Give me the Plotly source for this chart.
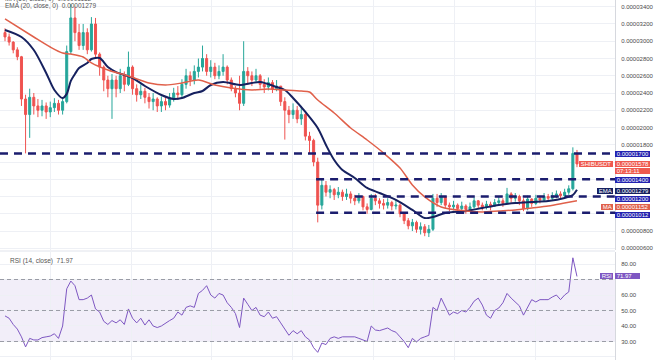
import plotly.graph_objects as go

# ---------------- data (price values in units of 1e-8 USDT) ----------------
opens = [3100, 3050, 2990, 2900, 2820, 2330, 2150, 2350, 2250, 2200,
         2250, 2180, 2230, 2280, 2200, 2300, 2880, 3270, 3100, 2950,
         3100, 2900, 3200, 2850, 2700, 2550, 2450, 2550, 2450, 2600,
         2500, 2700, 2450, 2380, 2420, 2350, 2300, 2330, 2250, 2300,
         2260, 2330, 2400, 2380, 2500, 2600, 2550, 2650, 2700, 2800,
         2650, 2700, 2600, 2650, 2700, 2550, 2450, 2400, 2280, 2650,
         2600, 2550, 2600, 2500, 2470, 2520, 2450, 2480, 2300, 2200,
         2150, 2200, 2100, 2150, 1900, 1850, 1600, 1100, 1330, 1250,
         1280, 1220, 1250, 1200, 1230, 1180, 1150, 1200, 1080, 1050,
         1180, 1150, 1120, 1100, 1130, 1090, 1100, 1000, 920, 860,
         900, 820, 850, 780, 820, 1180, 1130, 1200, 1100, 1080,
         1100, 1060, 1090, 1050, 1080, 1150, 1100, 1080, 1110, 1090,
         1130, 1150, 1120, 1230, 1180, 1200, 1150, 1060, 1170, 1120,
         1180, 1160, 1200, 1180, 1210, 1230, 1210, 1250, 1290, 1700]
closes = [3050, 2990, 2900, 2820, 2330, 2150, 2350, 2250, 2200, 2250,
          2180, 2230, 2280, 2200, 2300, 2880, 3270, 3100, 2950, 3100,
          2900, 3200, 2850, 2700, 2550, 2450, 2550, 2450, 2600, 2500,
          2700, 2450, 2380, 2420, 2350, 2300, 2330, 2250, 2300, 2260,
          2330, 2400, 2380, 2500, 2600, 2550, 2650, 2700, 2800, 2650,
          2700, 2600, 2650, 2700, 2550, 2450, 2400, 2280, 2650, 2600,
          2550, 2600, 2500, 2470, 2520, 2450, 2480, 2300, 2200, 2150,
          2200, 2100, 2150, 1900, 1850, 1600, 1100, 1330, 1250, 1280,
          1220, 1250, 1200, 1230, 1180, 1150, 1200, 1080, 1050, 1180,
          1150, 1120, 1100, 1130, 1090, 1100, 1000, 920, 860, 900,
          820, 850, 780, 820, 1180, 1130, 1200, 1100, 1080, 1100,
          1060, 1090, 1050, 1080, 1150, 1100, 1080, 1110, 1090, 1130,
          1150, 1120, 1230, 1180, 1200, 1150, 1060, 1170, 1120, 1180,
          1160, 1200, 1180, 1210, 1230, 1210, 1250, 1290, 1700, 1578]
highs = [3150, 3090, 3000, 2930, 2830, 2380, 2450, 2400, 2330, 2320,
         2290, 2300, 2340, 2320, 2350, 2950, 3430, 3400, 3200, 3200,
         3150, 3280, 3270, 2870, 2720, 2600, 2620, 2600, 2680, 2650,
         2880, 2720, 2500, 2500, 2460, 2400, 2400, 2350, 2360, 2350,
         2400, 2460, 2480, 2560, 2680, 2650, 2720, 2800, 2950, 2850,
         2780, 2750, 2720, 2850, 2720, 2580, 2480, 2600, 3000, 2700,
         2650, 2680, 2620, 2560, 2580, 2550, 2550, 2480, 2350, 2250,
         2280, 2250, 2250, 2180, 1950, 1870, 1650, 1400, 1380, 1330,
         1300, 1310, 1280, 1290, 1260, 1220, 1240, 1210, 1120, 1230,
         1230, 1180, 1170, 1180, 1150, 1160, 1120, 1020, 950, 940,
         920, 900, 880, 870, 1230, 1230, 1240, 1200, 1130, 1150,
         1120, 1140, 1110, 1130, 1190, 1160, 1130, 1150, 1140, 1170,
         1200, 1180, 1300, 1250, 1240, 1220, 1180, 1210, 1180, 1220,
         1210, 1240, 1230, 1250, 1270, 1260, 1290, 1330, 1770, 1740]
lows = [3000, 2950, 2860, 2780, 2250, 1700, 1880, 2150, 2120, 2130,
        2100, 2120, 2180, 2150, 2150, 2280, 2850, 3000, 2900, 2900,
        2850, 2880, 2800, 2600, 2420, 2350, 2100, 2350, 2400, 2420,
        2480, 2380, 2300, 2330, 2280, 2220, 2200, 2180, 2180, 2200,
        2230, 2300, 2320, 2350, 2450, 2480, 2500, 2580, 2650, 2600,
        2580, 2560, 2560, 2600, 2500, 2420, 2350, 2200, 2250, 2500,
        2480, 2520, 2450, 2400, 2430, 2400, 2420, 2250, 1860, 2050,
        2100, 2050, 2030, 1850, 1700, 1550, 900, 1050, 1200, 1180,
        1160, 1180, 1150, 1160, 1120, 1100, 1120, 1040, 1000, 1040,
        1100, 1060, 1050, 1060, 1040, 1050, 960, 880, 820, 800,
        780, 760, 740, 730, 800, 1080, 1100, 1060, 1030, 1040,
        1020, 1040, 1000, 1030, 1060, 1060, 1040, 1050, 1040, 1080,
        1100, 1080, 1110, 1130, 1140, 1100, 1030, 1040, 1080, 1100,
        1120, 1140, 1150, 1160, 1180, 1170, 1190, 1220, 1270, 1540]
bars = list(range(len(closes)))

ema_bar = [0, 4, 7, 10, 12, 14, 15, 16, 17, 18, 20, 21, 23, 25, 27, 29, 31, 34, 38, 41,
           43, 46, 48, 50, 53, 57, 60, 62, 66, 68, 70, 73, 76, 78, 80, 82, 85, 88, 91, 95,
           99, 102, 104, 107, 112, 116, 120, 124, 128, 132, 136, 138, 139]
ema_val = [3130, 3049, 2898, 2632, 2435, 2342, 2390, 2540, 2620, 2690, 2748, 2794, 2806, 2701,
           2643, 2608, 2574, 2481, 2377, 2330, 2342, 2400, 2423, 2493, 2527, 2493, 2516, 2527,
           2469, 2435, 2342, 2180, 1994, 1797, 1623, 1507, 1415, 1299, 1241, 1160, 1044, 951,
           963, 1009, 1032, 1067, 1102, 1125, 1137, 1148, 1183, 1218, 1279]
ma_bar = [0, 7, 11, 14, 16, 19, 21, 25, 30, 35, 39, 43, 47, 51, 55, 60, 64, 68, 72, 74,
          76, 80, 84, 88, 92, 96, 99, 102, 106, 112, 116, 120, 124, 128, 132, 136, 139]
ma_val = [3258, 3049, 2933, 2863, 2851, 2817, 2748, 2666, 2597, 2516, 2493, 2516, 2550, 2493,
          2458, 2435, 2446, 2435, 2423, 2411, 2319, 2168, 1994, 1855, 1704, 1530, 1334, 1195,
          1079, 1032, 1021, 1032, 1044, 1067, 1090, 1125, 1152]

rsi = [46.5, 45, 41, 38, 33, 26.5, 32, 31, 31, 32.5,
       33, 33.5, 35, 32, 40, 64, 69, 66, 57, 57,
       58, 60, 51, 49, 43, 41, 43.5, 42, 44, 41,
       51, 45, 42, 45, 40.6, 44, 40, 39, 40, 42,
       43.5, 45, 49, 47, 52, 53, 52, 61, 63, 66,
       60, 58, 61, 60, 55, 52, 48, 39, 58, 54,
       50, 52, 47, 46, 49, 45, 46, 42, 38, 34,
       37, 35, 37, 33, 31, 26, 23, 29, 28, 32,
       33, 32, 33, 33, 33, 33, 32, 31, 30, 40,
       37.4, 37, 38, 38.7, 37, 36, 33, 30, 26, 32,
       29.7, 32, 33, 34, 52, 50, 58, 53, 47, 49,
       48, 50, 49, 52, 56, 58, 53.5, 47, 45, 50,
       51.6, 55, 61, 58, 55.5, 53, 47, 52, 57, 55.5,
       57, 57, 57, 58.7, 60, 57, 60, 62, 84, 71.97]

levels = [1700, 1400, 1200, 1012]
price_ticks = [600, 800, 1800, 2000, 2200, 2400, 2600, 2800, 3000, 3200, 3400]
price_tick_text = ["0.00000600", "0.00000800", "0.00001800", "0.00002000", "0.00002200",
                   "0.00002400", "0.00002600", "0.00002800", "0.00003000", "0.00003200",
                   "0.00003400"]
hidden_price_grid = [1000, 1200, 1400, 1600]
rsi_ticks = [20, 30, 40, 50, 60, 80]
rsi_tick_text = ["20.00", "30.00", "40.00", "50.00", "60.00", "80.00"]
last_price = 1578
last_time = "07:13:11"
last_ema = 1279
last_ma = 1152
last_rsi = 71.97

# ---------------- style ----------------
FONT = "Arial"
UP = "#26a69a"
DOWN = "#ef5350"
EMA_C = "#16215f"
MA_C = "#e0604a"
RSI_C = "#7e57c2"
PRICE_C = "#ef5a4f"
LEVEL_C = "#1b1d6e"
LEVEL_BOX = "#2222b0"
GRID = "#eef0f5"
XR = 615 / 660
X_MIN, X_MAX = -1.215, 148.24
FS = 6

fig = go.Figure()
fig.add_trace(go.Candlestick(
    x=bars, open=opens, high=highs, low=lows, close=closes,
    increasing=dict(line=dict(color=UP, width=1), fillcolor=UP),
    decreasing=dict(line=dict(color=DOWN, width=1), fillcolor=DOWN),
    whiskerwidth=0, xaxis="x", yaxis="y", hoverinfo="skip"))
fig.add_trace(go.Scatter(x=ema_bar, y=ema_val, mode="lines",
                         line=dict(color=EMA_C, width=2, shape="spline", smoothing=0.8),
                         xaxis="x", yaxis="y", hoverinfo="skip"))
fig.add_trace(go.Scatter(x=ma_bar, y=ma_val, mode="lines",
                         line=dict(color=MA_C, width=1.5, shape="spline", smoothing=0.8),
                         xaxis="x", yaxis="y", hoverinfo="skip"))
fig.add_trace(go.Scatter(x=bars, y=rsi, mode="lines", line=dict(color=RSI_C, width=1),
                         xaxis="x2", yaxis="y2", hoverinfo="skip"))

shapes = []
shapes.append(dict(type="rect", xref="x2 domain", x0=0, x1=1, yref="y2", y0=30, y1=70,
                   fillcolor="rgba(126,87,194,0.10)", line=dict(width=0), layer="below"))
for lv in (70, 50, 30):
    shapes.append(dict(type="line", xref="x2 domain", x0=0, x1=1, yref="y2", y0=lv, y1=lv,
                       line=dict(color="#9a9ca6", width=1, dash="4px,3px")))
shapes.append(dict(type="line", xref="paper", x0=0, x1=XR, yref="paper", y0=1 - 251 / 360,
                   y1=1 - 251 / 360, line=dict(color="#e0e3eb", width=1)))
level_start = {1700: X_MIN, 1400: 75.6, 1200: 85.0, 1012: 75.6}
for lv in levels:
    shapes.append(dict(type="line", xref="x", x0=level_start[lv], x1=X_MAX, yref="y",
                       y0=lv, y1=lv, line=dict(color=LEVEL_C, width=2.5, dash="8px,6px")))

ann = []


def right_box(y, text, color, yref="y", yshift=0):
    ann.append(dict(x=XR, xref="paper", xanchor="left", y=y, yref=yref,
                    text="&nbsp;" + text + "&nbsp;", showarrow=False,
                    font=dict(color="white", size=FS, family=FONT), bgcolor=color,
                    borderpad=0, borderwidth=0, xshift=0, yshift=yshift))


def left_box(y, text, color, yref="y", yshift=0):
    ann.append(dict(x=XR, xref="paper", xanchor="right", y=y, yref=yref,
                    text="&nbsp;" + text + "&nbsp;", showarrow=False,
                    font=dict(color="white", size=FS, family=FONT), bgcolor=color,
                    borderpad=0, borderwidth=0, xshift=-2, yshift=yshift))


# label boxes on the price scale (spread apart like the original's scale labels)
right_box(1700, "0.00001700", LEVEL_BOX, yshift=-0.5)
right_box(1400, "0.00001400", LEVEL_BOX, yshift=-0.7)
right_box(1200, "0.00001200", LEVEL_BOX, yshift=-2.5)
right_box(1012, "0.00001012", LEVEL_BOX, yshift=-2.3)
right_box(last_ema, "0.%08d" % last_ema, EMA_C, yshift=-1.3)
left_box(last_ema, "EMA", EMA_C, yshift=-1.3)
right_box(last_ma, "0.%08d" % last_ma, MA_C, yshift=-6.3)
left_box(last_ma, "MA", MA_C, yshift=-6.3)
right_box(last_price, "0.%08d" % last_price, PRICE_C, yshift=-0.5)
right_box(last_price, last_time + "&nbsp;&nbsp;&nbsp;&nbsp;&nbsp;", PRICE_C, yshift=-7.5)
left_box(last_price, "SHIBUSDT", PRICE_C, yshift=-0.5)
right_box(last_rsi, "%.2f" % last_rsi + "&nbsp;&nbsp;&nbsp;&nbsp;", RSI_C, yref="y2")
left_box(last_rsi, "RSI", RSI_C, yref="y2")

# legends
LEG = dict(size=6.5, color="#555555", family=FONT)
ann.append(dict(x=0.004, xref="paper", xanchor="left", y=1 + 1 / 360, yref="paper",
                yanchor="middle", showarrow=False,
                text="MA (50, close, 0)&nbsp;&nbsp;0.0000%d" % last_ma, font=LEG))
ann.append(dict(x=0.004, xref="paper", xanchor="left", y=1 - 6 / 360, yref="paper",
                yanchor="middle", showarrow=False,
                text="EMA (20, close, 0)&nbsp;&nbsp;0.0000%d" % last_ema, font=LEG))
ann.append(dict(x=8 / 660, xref="paper", xanchor="left", y=1 - 261 / 360, yref="paper",
                yanchor="middle", showarrow=False,
                text="RSI (14, close)&nbsp;&nbsp;%.2f" % last_rsi, font=LEG))

axis_x = dict(domain=[0, XR], range=[X_MIN, X_MAX], showticklabels=False, showgrid=True,
              gridcolor=GRID, tick0=10.94, dtick=19.68, zeroline=False, ticks="",
              fixedrange=True)
axis_y = dict(side="right", showgrid=True, gridcolor=GRID, zeroline=False, ticks="",
              showline=True, linecolor="#d6d8de", linewidth=1, ticklabelstandoff=4,
              fixedrange=True, tickfont=dict(size=FS, color="#4a4a4a", family=FONT))

fig.update_layout(
    width=660, height=360, margin=dict(l=0, r=0, t=0, b=0),
    paper_bgcolor="white", plot_bgcolor="white", showlegend=False,
    font=dict(family=FONT), hovermode=False,
    xaxis=dict(axis_x, anchor="y", rangeslider=dict(visible=False)),
    xaxis2=dict(axis_x, anchor="y2"),
    yaxis=dict(axis_y, domain=[1 - 250 / 360, 1], anchor="x", range=[580, 3478],
               tickvals=price_ticks, ticktext=price_tick_text,
               minor=dict(tickvals=hidden_price_grid, showgrid=True, gridcolor=GRID,
                          ticks="")),
    yaxis2=dict(axis_y, domain=[0, 0.3], anchor="x2", range=[18.06, 87.74],
                tickvals=rsi_ticks, ticktext=rsi_tick_text,
                minor=dict(tickvals=[70], showgrid=True, gridcolor=GRID, ticks="")),
    shapes=shapes, annotations=ann,
)

fig.write_html("out.html",
               config={"displayModeBar": False, "staticPlot": True},
               post_script="document.body.style.margin='0';"
                           "document.body.style.overflow='hidden';")
